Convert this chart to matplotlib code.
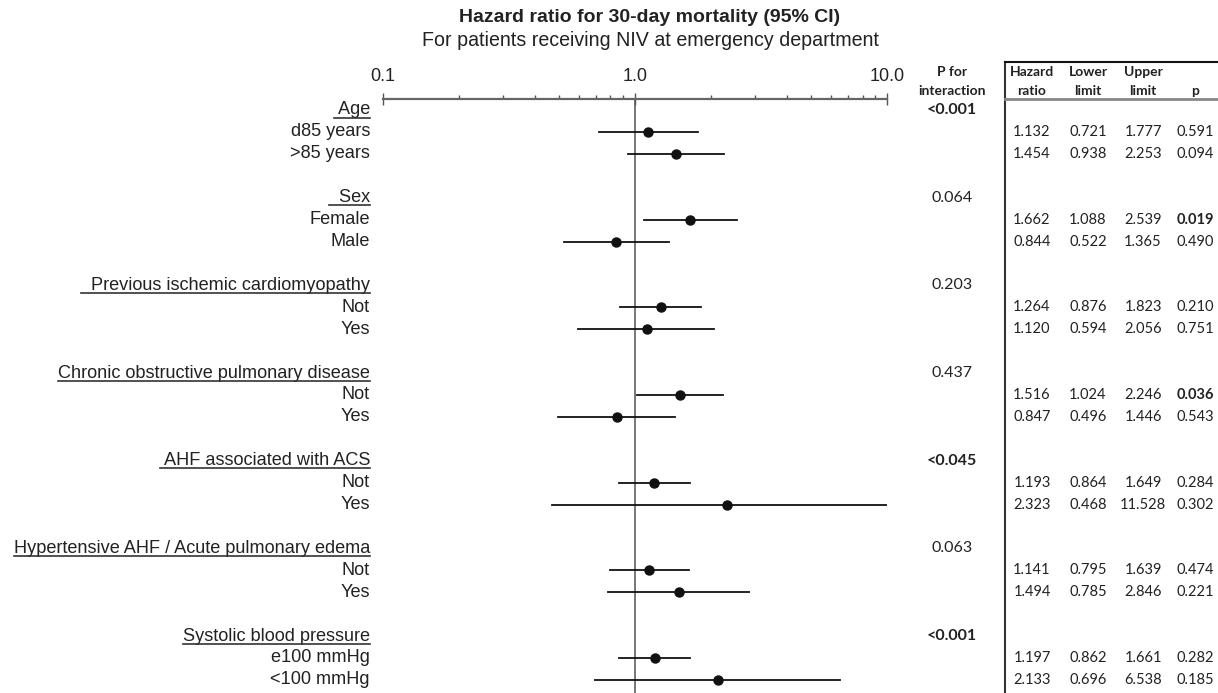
import matplotlib
matplotlib.use('Agg')
import matplotlib.pyplot as plt
from matplotlib.lines import Line2D
from matplotlib.ticker import NullFormatter
from matplotlib.transforms import blended_transform_factory

# data
groups = ['Age', 'Sex', 'Previous ischemic cardiomyopathy',
          'Chronic obstructive pulmonary disease', 'AHF associated with ACS',
          'Hypertensive AHF / Acute pulmonary edema', 'Systolic blood pressure']
# leading spaces are part of the underlined header text in the original
group_pad = [' ', '  ', '  ', '', ' ', '', '']
subgroups = [['d85 years', '>85 years'], ['Female', 'Male'], ['Not', 'Yes'],
             ['Not', 'Yes'], ['Not', 'Yes'], ['Not', 'Yes'],
             ['e100 mmHg', '<100 mmHg']]
hr = [1.132, 1.454, 1.662, 0.844, 1.264, 1.120, 1.516, 0.847,
      1.193, 2.323, 1.141, 1.494, 1.197, 2.133]
lower = [0.721, 0.938, 1.088, 0.522, 0.876, 0.594, 1.024, 0.496,
         0.864, 0.468, 0.795, 0.785, 0.862, 0.696]
upper = [1.777, 2.253, 2.539, 1.365, 1.823, 2.056, 2.246, 1.446,
         1.649, 11.528, 1.639, 2.846, 1.661, 6.538]
p_val = ['0.591', '0.094', '0.019', '0.490', '0.210', '0.751', '0.036',
         '0.543', '0.284', '0.302', '0.474', '0.221', '0.282', '0.185']
p_bold = [False, False, True, False, False, False, True,
          False, False, False, False, False, False, False]
p_interaction = ['<0.001', '0.064', '0.203', '0.437', '<0.045', '0.063', '<0.001']
p_int_bold = [True, False, False, False, True, False, True]

W, H = 1218, 693


def fx(px):
    return px / W


def fy(py):
    return 1 - py / H


fig = plt.figure(figsize=(W / 100, H / 100), dpi=100)
fig.patch.set_facecolor('white')

# row k sits at pixel 110 + 21.92 * k
row0, step = 110, 21.92
ax = fig.add_axes([fx(382.7), fy(693), fx(887) - fx(382.7), fy(99) - fy(693)])
ax.set_xscale('log')
ax.set_xlim(0.1, 10)
ax.set_ylim((693 - row0) / step, (99 - row0) / step)
for s in ['bottom', 'left', 'right']:
    ax.spines[s].set_visible(False)
ax.spines['top'].set_color('#666666')
ax.spines['top'].set_linewidth(1.6)
ax.set_yticks([])
ax.xaxis.set_ticks_position('top')
ax.set_xticks([0.1, 1, 10], ['0.1', '1.0', '10.0'])
ax.xaxis.set_minor_formatter(NullFormatter())
ax.tick_params(axis='x', which='major', direction='inout', length=8.6, width=1,
               color='#555555', pad=5.5, labelsize=13, labelcolor='#222222')
ax.tick_params(axis='x', which='minor', direction='out', length=3, width=1,
               color='#555555')
for lab in ax.get_xticklabels():
    lab.set_family('Liberation Sans')

ax.axvline(1, color='#777777', lw=1.4, zorder=1)

rows = []
head_rows = []
for i in range(len(groups)):
    head_rows.append(4 * i)
    rows += [4 * i + 1, 4 * i + 2]

for j, r in enumerate(rows):
    ax.plot([lower[j], upper[j]], [r, r], color='#111111', lw=1.3, zorder=2)
ax.plot(hr, rows, 'o', color='#111111', ms=6.5, zorder=3)

tr = blended_transform_factory(fig.transFigure, ax.transData)
lab_kw = dict(transform=tr, ha='right', va='center', fontsize=13.1,
              family='Liberation Sans', color='#222222')

header_texts = []
for i, g in enumerate(groups):
    t = ax.text(fx(370), head_rows[i], group_pad[i] + g, **lab_kw)
    header_texts.append(t)
    ax.text(fx(370), rows[2 * i], subgroups[i][0], **lab_kw)
    ax.text(fx(370), rows[2 * i + 1], subgroups[i][1], **lab_kw)

# title
fig.text(fx(650), fy(18), 'Hazard ratio for 30-day mortality (95% CI)',
         ha='center', va='center', fontsize=14, fontweight='bold',
         family='Liberation Sans', color='#222222')
fig.text(fx(650), fy(40), 'For patients receiving NIV at emergency department',
         ha='center', va='center', fontsize=14.1, family='Liberation Sans',
         color='#222222')

# table
tab_font = 'Lato'
hdr_kw = dict(ha='center', va='center', fontsize=10, fontweight='bold',
              family=tab_font, color='#222222')
fig.text(fx(952), fy(71.7), 'P for', **hdr_kw)
fig.text(fx(952), fy(90.7), 'interaction', **hdr_kw)
col_x = [1032, 1088, 1143, 1195]
col_head = [('Hazard', 'ratio'), ('Lower', 'limit'), ('Upper', 'limit'), ('', 'p')]
for cx, (h1, h2) in zip(col_x, col_head):
    fig.text(fx(cx), fy(71.7), h1, **hdr_kw)
    fig.text(fx(cx), fy(90.7), h2, **hdr_kw)

val_kw = dict(transform=tr, ha='center', va='center', fontsize=10.5,
              family=tab_font, color='#222222')
pint_kw = dict(val_kw, fontsize=11.5)
for i, pi in enumerate(p_interaction):
    ax.text(fx(952), head_rows[i], pi,
            fontweight='bold' if p_int_bold[i] else 'normal', **pint_kw)
for j, r in enumerate(rows):
    ax.text(fx(col_x[0]), r, f'{hr[j]:.3f}', **val_kw)
    ax.text(fx(col_x[1]), r, f'{lower[j]:.3f}', **val_kw)
    ax.text(fx(col_x[2]), r, f'{upper[j]:.3f}', **val_kw)
    ax.text(fx(col_x[3]), r, p_val[j],
            fontweight='bold' if p_bold[j] else 'normal', **val_kw)

fig.add_artist(Line2D([fx(1005), fx(1005)], [fy(62), fy(693)],
                      transform=fig.transFigure, color='#333333', lw=1.5))
fig.add_artist(Line2D([fx(1005), 1], [fy(62), fy(62)],
                      transform=fig.transFigure, color='#111111', lw=1.5))
fig.add_artist(Line2D([fx(1005), 1], [fy(99), fy(99)],
                      transform=fig.transFigure, color='#888888', lw=2))

# underline the group headers
fig.canvas.draw()
renderer = fig.canvas.get_renderer()
for t in header_texts:
    bb = t.get_window_extent(renderer)
    y = (bb.y0 + 1) / H
    fig.add_artist(Line2D([bb.x0 / W, bb.x1 / W], [y, y],
                          transform=fig.transFigure, color='#333333', lw=1.2))

fig.savefig('out.png', dpi=100)
